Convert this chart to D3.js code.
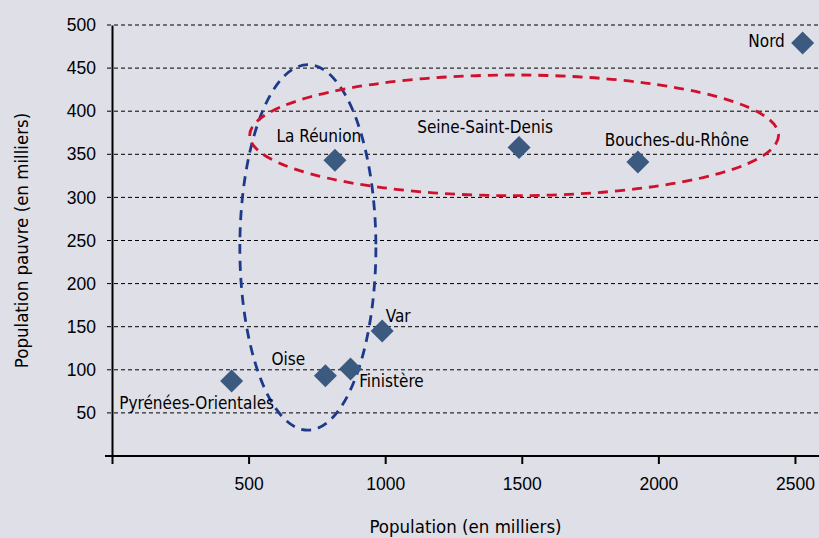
<!DOCTYPE html>
<html lang="fr">
<head>
  <meta charset="UTF-8">
  <title>Population pauvre par département</title>
  <script src="https://d3js.org/d3.v7.min.js"></script>
  <style>
    body {
      margin: 0;
      background: #dedfe7;
      font-family: "Liberation Sans Narrow", "DejaVu Sans Condensed", "Arial Narrow", sans-serif;
    }
    svg text {
      fill: #000;
    }
  </style>
</head>
<body>
  <div id="chart"></div>

  <script>
    // values (thousands of people)
    const departements = ["Pyrénées-Orientales", "Oise", "Finistère", "Var",
                          "La Réunion", "Seine-Saint-Denis", "Bouches-du-Rhône", "Nord"];
    const population = [438, 781, 873, 989, 816, 1490, 1925, 2528];
    const populationPauvre = [87, 93, 101, 145, 343, 358, 341, 479];

    const xTicks = [0, 500, 1000, 1500, 2000, 2500];
    const yTicks = [50, 100, 150, 200, 250, 300, 350, 400, 450, 500];

    // the two dashed groupings, in data units
    const groupCx = [717, 1472];
    const groupCy = [242, 372];
    const groupRx = [249, 968];
    const groupRy = [212, 70];
    const groupColors = ["#1d3a8a", "#d0102c"];

    // label placement (px from the marker, text centred)
    const labelDx = [-35, -37, 41, 16, -16, -34, 39, -36];
    const labelDy = [28, -11, 18, -9, -18, -14, -16, 4];

    const width = 819, height = 538;
    const mLeft = 112, mRight = 819, mTop = 25, mBottom = 456;

    const svg = d3.select("#chart").append("svg")
        .attr("width", width)
        .attr("height", height);

    const x = d3.scaleLinear().domain([0, 2588]).range([mLeft, mRight]);
    const y = d3.scaleLinear().domain([0, 500]).range([mBottom, mTop]);

    // dashed grid
    svg.append("g")
      .selectAll("line")
      .data(yTicks)
      .join("line")
        .attr("x1", mLeft - 5)
        .attr("x2", mRight)
        .attr("y1", d => y(d))
        .attr("y2", d => y(d))
        .attr("stroke", "#000")
        .attr("stroke-width", 1)
        .attr("stroke-dasharray", "4,3");

    // y axis
    const yAxis = svg.append("g")
        .attr("transform", `translate(${mLeft},0)`)
        .call(d3.axisLeft(y).tickValues(yTicks).tickSize(0).tickPadding(16));
    yAxis.select(".domain").attr("stroke", "#000").attr("stroke-width", 2);
    yAxis.selectAll("text")
        .attr("font-size", "17.5px")
        .attr("font-family", "inherit")
        .attr("fill", "#000");

    // x axis
    const xAxis = svg.append("g")
        .attr("transform", `translate(0,${mBottom})`)
        .call(d3.axisBottom(x).tickValues(xTicks)
          .tickFormat(d => d === 0 ? "" : d)
          .tickSize(8).tickSizeOuter(0).tickPadding(14));
    xAxis.select(".domain").remove();
    xAxis.append("line")
        .attr("x1", mLeft - 7)
        .attr("x2", mRight)
        .attr("stroke", "#000")
        .attr("stroke-width", 2);
    xAxis.selectAll(".tick line").attr("stroke", "#000").attr("stroke-width", 2);
    xAxis.selectAll("text")
        .attr("font-size", "17.5px")
        .attr("font-family", "inherit")
        .attr("fill", "#000");

    // groupings
    svg.append("g")
      .selectAll("ellipse")
      .data(groupCx)
      .join("ellipse")
        .attr("cx", d => x(d))
        .attr("cy", (d, i) => y(groupCy[i]))
        .attr("rx", (d, i) => x(groupRx[i]) - x(0))
        .attr("ry", (d, i) => y(0) - y(groupRy[i]))
        .attr("fill", "none")
        .attr("stroke", (d, i) => groupColors[i])
        .attr("stroke-width", 2.8)
        .attr("stroke-dasharray", "10,7");

    // diamonds
    const r = 11.5;
    svg.append("g")
      .selectAll("path")
      .data(departements)
      .join("path")
        .attr("transform", (d, i) => `translate(${x(population[i])},${y(populationPauvre[i])})`)
        .attr("d", `M0,${-r}L${r},0L0,${r}L${-r},0Z`)
        .attr("fill", "#3c5a80");

    // labels
    svg.append("g")
      .selectAll("text")
      .data(departements)
      .join("text")
        .attr("x", (d, i) => x(population[i]) + labelDx[i])
        .attr("y", (d, i) => y(populationPauvre[i]) + labelDy[i])
        .attr("text-anchor", "middle")
        .attr("font-size", "17px")
        .text(d => d);

    // axis titles
    svg.append("text")
        .attr("x", (mLeft + mRight) / 2)
        .attr("y", 533)
        .attr("text-anchor", "middle")
        .attr("font-size", "18.5px")
        .text("Population (en milliers)");

    svg.append("text")
        .attr("transform", `translate(28,${(mTop + mBottom) / 2}) rotate(-90)`)
        .attr("text-anchor", "middle")
        .attr("font-size", "18.5px")
        .text("Population pauvre (en milliers)");
  </script>
</body>
</html>
